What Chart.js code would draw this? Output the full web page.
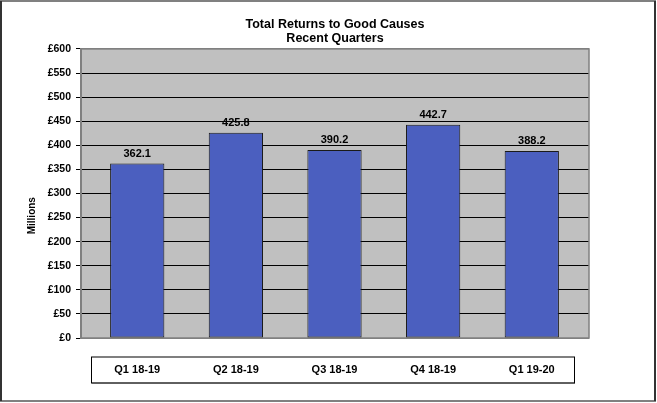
<!DOCTYPE html>
<html>
<head>
<meta charset="utf-8">
<script src="https://cdn.jsdelivr.net/npm/chart.js@4"></script>
<style>
html,body{margin:0;padding:0;background:#fff;}
canvas{display:block;}
</style>
</head>
<body>
<canvas id="c" width="657" height="403"></canvas>
<script>
const categories = ['Q1 18-19', 'Q2 18-19', 'Q3 18-19', 'Q4 18-19', 'Q1 19-20'];
const returns = [362.1, 425.8, 390.2, 442.7, 388.2];
const yTicks = [0, 50, 100, 150, 200, 250, 300, 350, 400, 450, 500, 550, 600];
const titleLines = ['Total Returns to Good Causes', 'Recent Quarters'];
const yTitle = 'Millions';

const FONT = 'Arial, "Liberation Sans", sans-serif';

const framePlugin = {
  id: 'frame',
  beforeDraw(chart) {
    const {ctx, chartArea: a} = chart;
    ctx.save();
    ctx.fillStyle = '#fff';
    ctx.fillRect(0, 0, chart.width, chart.height);
    ctx.fillStyle = '#c0c0c0';
    ctx.fillRect(a.left, a.top, a.right - a.left, a.bottom - a.top);
    // outer border
    ctx.strokeStyle = '#808080';
    ctx.lineWidth = 2;
    ctx.strokeRect(1, 1, chart.width - 3, chart.height - 3);
    ctx.strokeStyle = '#333';
    ctx.beginPath();
    ctx.moveTo(1, 1); ctx.lineTo(1, chart.height - 2);
    ctx.moveTo(chart.width - 2, 1); ctx.lineTo(chart.width - 2, chart.height - 2);
    ctx.stroke();
    // category label box
    const bx = a.left + 10, by = a.bottom + 18.5, bw = a.right - a.left - 25, bh = 26;
    ctx.fillStyle = '#808080';
    ctx.fillRect(bx + 1, by + 1, bw, bh);
    ctx.fillStyle = '#fff';
    ctx.fillRect(bx, by, bw, bh);
    ctx.strokeStyle = '#000';
    ctx.lineWidth = 1;
    ctx.strokeRect(bx + 0.5, by + 0.5, bw, bh);
    ctx.restore();
  },
  beforeDatasetsDraw(chart) {
    const {ctx, chartArea: a} = chart;
    ctx.save();
    ctx.strokeStyle = '#808080';
    ctx.lineWidth = 1.5;
    ctx.strokeRect(a.left, a.top, a.right - a.left, a.bottom - a.top);
    ctx.restore();
  },
  afterDatasetsDraw(chart) {
    const {ctx} = chart;
    const meta = chart.getDatasetMeta(0);
    ctx.save();
    ctx.fillStyle = '#000';
    ctx.font = 'bold 11px ' + FONT;
    ctx.textAlign = 'center';
    ctx.textBaseline = 'middle';
    meta.data.forEach((bar, i) => {
      ctx.fillText(returns[i].toFixed(1), bar.x, bar.y - 10);
    });
    ctx.restore();
  }
};

new Chart(document.getElementById('c'), {
  type: 'bar',
  data: {
    datasets: [{
      data: returns.map((v, i) => ({x: i, y: v})),
      backgroundColor: '#4b5fbf',
      borderColor: '#1a1a1a',
      borderWidth: 1,
      borderSkipped: false,
      barPercentage: 0.55,
      categoryPercentage: 1
    }]
  },
  options: {
    responsive: false,
    animation: false,
    devicePixelRatio: 1,
    layout: {padding: {left: 0, right: 68, top: 0, bottom: 0}},
    plugins: {
      legend: {display: false},
      tooltip: {enabled: false},
      title: {
        display: true,
        text: titleLines,
        fullSize: false,
        color: '#000',
        font: {family: FONT, size: 12.5, weight: 'bold', lineHeight: 1.15},
        padding: {top: 17, bottom: 3.2}
      }
    },
    scales: {
      x: {
        type: 'linear',
        offset: false,
        min: -0.57,
        max: 4.58,
        afterBuildTicks(scale) { scale.ticks = categories.map((c, i) => ({value: i})); },
        afterFit(scale) { scale.height = 65; },
        grid: {display: false, drawTicks: false, offset: false},
        border: {display: false},
        ticks: {
          padding: 25,
          color: '#000',
          font: {family: FONT, size: 11, weight: 'bold'},
          maxRotation: 0,
          autoSkip: false,
          callback: (v) => categories[v]
        }
      },
      y: {
        min: 0,
        max: 600,
        afterBuildTicks(scale) { scale.ticks = yTicks.map(v => ({value: v})); },
        afterFit(scale) { scale.width = 81; },
        grid: {
          color: (c) => (c.tick && (c.tick.value === 0 || c.tick.value === 600)) ? '#808080' : '#000',
          tickColor: '#000',
          tickLength: 5,
          lineWidth: 1
        },
        border: {display: true, color: '#808080', width: 2},
        ticks: {
          padding: 5,
          color: '#000',
          font: {family: FONT, size: 10.5, weight: 'bold'},
          callback: (v) => '£' + v
        },
        title: {
          display: true,
          text: yTitle + ' '.repeat(16),
          color: '#000',
          font: {family: FONT, size: 10, weight: 'bold'},
          padding: {top: 26, bottom: 0}
        }
      }
    }
  },
  plugins: [framePlugin]
});
</script>
</body>
</html>
